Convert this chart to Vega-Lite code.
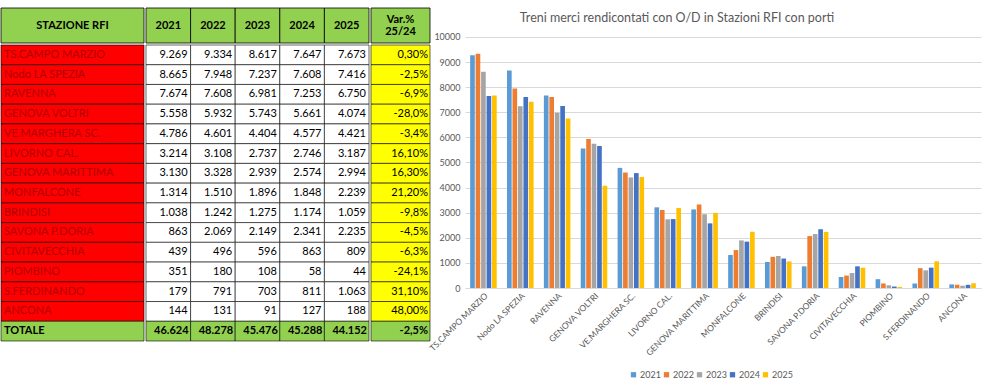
{
  "$schema": "https://vega.github.io/schema/vega-lite/v6.json",
  "padding": {"left": 0, "top": 7, "right": 5, "bottom": 2},
  "background": "white",
  "config": {
    "locale": {"number": {"decimal": ",", "thousands": ".", "grouping": [3], "currency": ["€", ""]}},
    "font": "Lato",
    "view": {"stroke": null}
  },
  "datasets": {
    "ports": [
      {"s": "TS.CAMPO MARZIO", "2021": 9269, "2022": 9334, "2023": 8617, "2024": 7647, "2025": 7673, "var": "0,30%"},
      {"s": "Nodo LA SPEZIA", "2021": 8665, "2022": 7948, "2023": 7237, "2024": 7608, "2025": 7416, "var": "-2,5%"},
      {"s": "RAVENNA", "2021": 7674, "2022": 7608, "2023": 6981, "2024": 7253, "2025": 6750, "var": "-6,9%"},
      {"s": "GENOVA VOLTRI", "2021": 5558, "2022": 5932, "2023": 5743, "2024": 5661, "2025": 4074, "var": "-28,0%"},
      {"s": "VE.MARGHERA SC.", "2021": 4786, "2022": 4601, "2023": 4404, "2024": 4577, "2025": 4421, "var": "-3,4%"},
      {"s": "LIVORNO CAL.", "2021": 3214, "2022": 3108, "2023": 2737, "2024": 2746, "2025": 3187, "var": "16,10%"},
      {"s": "GENOVA MARITTIMA", "2021": 3130, "2022": 3328, "2023": 2939, "2024": 2574, "2025": 2994, "var": "16,30%"},
      {"s": "MONFALCONE", "2021": 1314, "2022": 1510, "2023": 1896, "2024": 1848, "2025": 2239, "var": "21,20%"},
      {"s": "BRINDISI", "2021": 1038, "2022": 1242, "2023": 1275, "2024": 1174, "2025": 1059, "var": "-9,8%"},
      {"s": "SAVONA P.DORIA", "2021": 863, "2022": 2069, "2023": 2149, "2024": 2341, "2025": 2235, "var": "-4,5%"},
      {"s": "CIVITAVECCHIA", "2021": 439, "2022": 496, "2023": 596, "2024": 863, "2025": 809, "var": "-6,3%"},
      {"s": "PIOMBINO", "2021": 351, "2022": 180, "2023": 108, "2024": 58, "2025": 44, "var": "-24,1%"},
      {"s": "S.FERDINANDO", "2021": 179, "2022": 791, "2023": 703, "2024": 811, "2025": 1063, "var": "31,10%"},
      {"s": "ANCONA", "2021": 144, "2022": 131, "2023": 91, "2024": 127, "2025": 188, "var": "48,00%"},
      {"s": "TOTALE", "2021": 46624, "2022": 48278, "2023": 45476, "2024": 45288, "2025": 44152, "var": "-2,5%"}
    ],
    "header": [
      {"g": "s", "c": "STAZIONE RFI"},
      {"g": "y", "c": "2021"},
      {"g": "y", "c": "2022"},
      {"g": "y", "c": "2023"},
      {"g": "y", "c": "2024"},
      {"g": "y", "c": "2025"},
      {"g": "v", "c": "Var.%\n25/24"}
    ]
  },
  "spacing": -4,
  "hconcat": [
    {
      "spacing": 0,
      "vconcat": [
        {
          "spacing": 0,
          "hconcat": [
            {
              "width": 143, "height": 35,
              "data": {"name": "header"},
              "transform": [{"filter": "datum.g == 's'"}],
              "encoding": {"x": {"field": "c", "type": "nominal", "axis": null, "scale": {"paddingInner": 0, "paddingOuter": 0}}},
              "layer": [
                {"mark": {"type": "rect", "fill": "#92D050", "stroke": "#000", "strokeWidth": 0.8}},
                {"mark": {"type": "text", "fontWeight": "bold", "fontSize": 11, "color": "#000"}, "encoding": {"text": {"field": "c"}}}
              ]
            },
            {
              "width": 223, "height": 35,
              "data": {"name": "header"},
              "transform": [{"filter": "datum.g == 'y'"}],
              "encoding": {"x": {"field": "c", "type": "nominal", "sort": null, "axis": null, "scale": {"paddingInner": 0, "paddingOuter": 0}}},
              "layer": [
                {"mark": {"type": "rect", "fill": "#92D050", "stroke": "#000", "strokeWidth": 0.8}},
                {"mark": {"type": "text", "fontWeight": "bold", "fontSize": 11, "color": "#000"}, "encoding": {"text": {"field": "c"}}}
              ]
            },
            {
              "width": 59, "height": 35,
              "data": {"name": "header"},
              "transform": [{"filter": "datum.g == 'v'"}],
              "encoding": {"x": {"field": "c", "type": "nominal", "axis": null, "scale": {"paddingInner": 0, "paddingOuter": 0}}},
              "layer": [
                {"mark": {"type": "rect", "fill": "#92D050", "stroke": "#000", "strokeWidth": 0.8}},
                {"mark": {"type": "text", "fontWeight": "bold", "fontSize": 11, "color": "#000", "lineBreak": "\n", "lineHeight": 12, "dy": -6}, "encoding": {"text": {"field": "c"}}}
              ]
            }
          ]
        },
        {
          "spacing": 0,
          "hconcat": [
            {
              "width": 143, "height": 296,
              "data": {"name": "ports"},
              "encoding": {
                "y": {"field": "s", "type": "nominal", "sort": null, "axis": null, "scale": {"paddingInner": 0, "paddingOuter": 0}},
                "x": {"datum": "STAZIONE RFI", "type": "nominal", "axis": null, "scale": {"paddingInner": 0, "paddingOuter": 0}}
              },
              "layer": [
                {"mark": {"type": "rect", "stroke": "#000", "strokeWidth": 0.6},
                 "encoding": {"fill": {"condition": {"test": "datum.s == 'TOTALE'", "value": "#92D050"}, "value": "#FF0000"}}},
                {"transform": [{"filter": "datum.s != 'TOTALE'"}],
                 "mark": {"type": "text", "align": "left", "dx": 3, "fontSize": 11, "color": "#B00000"},
                 "encoding": {"x": {"datum": "STAZIONE RFI", "type": "nominal", "bandPosition": 0}, "text": {"field": "s"}}},
                {"transform": [{"filter": "datum.s == 'TOTALE'"}],
                 "mark": {"type": "text", "align": "left", "dx": 3, "fontSize": 11, "fontWeight": "bold", "color": "#000"},
                 "encoding": {"x": {"datum": "STAZIONE RFI", "type": "nominal", "bandPosition": 0}, "text": {"field": "s"}}}
              ]
            },
            {
              "width": 223, "height": 296,
              "data": {"name": "ports"},
              "transform": [{"fold": ["2021", "2022", "2023", "2024", "2025"], "as": ["yr", "v"]}],
              "encoding": {
                "y": {"field": "s", "type": "nominal", "sort": null, "axis": null, "scale": {"paddingInner": 0, "paddingOuter": 0}},
                "x": {"field": "yr", "type": "nominal", "sort": null, "axis": null, "scale": {"paddingInner": 0, "paddingOuter": 0}}
              },
              "layer": [
                {"mark": {"type": "rect", "stroke": "#000", "strokeWidth": 0.6},
                 "encoding": {"fill": {"condition": {"test": "datum.s == 'TOTALE'", "value": "#92D050"}, "value": "#FFFFFF"}}},
                {"transform": [{"filter": "datum.s != 'TOTALE'"}],
                 "mark": {"type": "text", "align": "right", "dx": -3, "fontSize": 11, "color": "#000"},
                 "encoding": {"x": {"field": "yr", "type": "nominal", "sort": null, "bandPosition": 1}, "text": {"field": "v", "format": ",d"}}},
                {"transform": [{"filter": "datum.s == 'TOTALE'"}],
                 "mark": {"type": "text", "align": "right", "dx": -2, "fontSize": 11, "fontWeight": "bold", "color": "#000"},
                 "encoding": {"x": {"field": "yr", "type": "nominal", "sort": null, "bandPosition": 1}, "text": {"field": "v", "format": ",d"}}}
              ]
            },
            {
              "width": 59, "height": 296,
              "data": {"name": "ports"},
              "encoding": {
                "y": {"field": "s", "type": "nominal", "sort": null, "axis": null, "scale": {"paddingInner": 0, "paddingOuter": 0}},
                "x": {"datum": "Var", "type": "nominal", "axis": null, "scale": {"paddingInner": 0, "paddingOuter": 0}}
              },
              "layer": [
                {"mark": {"type": "rect", "stroke": "#000", "strokeWidth": 0.6},
                 "encoding": {"fill": {"condition": {"test": "datum.s == 'TOTALE'", "value": "#92D050"}, "value": "#FFFF00"}}},
                {"transform": [{"filter": "datum.s != 'TOTALE'"}],
                 "mark": {"type": "text", "align": "right", "dx": -2, "fontSize": 11, "color": "#000"},
                 "encoding": {"x": {"datum": "Var", "type": "nominal", "bandPosition": 1}, "text": {"field": "var"}}},
                {"transform": [{"filter": "datum.s == 'TOTALE'"}],
                 "mark": {"type": "text", "align": "right", "dx": -2, "fontSize": 11, "fontWeight": "bold", "color": "#000"},
                 "encoding": {"x": {"datum": "Var", "type": "nominal", "bandPosition": 1}, "text": {"field": "var"}}}
              ]
            }
          ]
        }
      ]
    },
    {
      "width": 516, "height": 280,
      "data": {"name": "ports"},
      "transform": [
        {"filter": "datum.s != 'TOTALE'"},
        {"fold": ["2021", "2022", "2023", "2024", "2025"], "as": ["yr", "v"]}
      ],
      "title": {"text": "Treni merci rendicontati con O/D in Stazioni RFI con porti", "fontSize": 12.5, "fontWeight": "normal", "color": "#595959", "font": "Lato", "offset": -16, "dx": -46},
      "mark": {"type": "bar"},
      "encoding": {
        "x": {"field": "s", "type": "nominal", "sort": null, "title": null,
              "scale": {"paddingInner": 0.28, "paddingOuter": 0.14},
              "axis": {"labelAngle": -45, "labelFontSize": 8.5, "labelColor": "#595959", "ticks": false, "domainColor": "#d9d9d9", "labelPadding": 3}},
        "xOffset": {"field": "yr", "type": "nominal", "sort": null, "scale": {"paddingInner": 0.15}},
        "y": {"field": "v", "type": "quantitative", "title": null,
              "scale": {"domain": [0, 11155], "nice": false},
              "axis": {"values": [0, 1000, 2000, 3000, 4000, 5000, 6000, 7000, 8000, 9000, 10000], "format": "d", "labelFontSize": 9, "labelColor": "#595959", "domain": false, "ticks": false, "gridColor": "#d9d9d9", "labelPadding": 5}},
        "color": {"field": "yr", "type": "nominal",
                  "scale": {"domain": ["2021", "2022", "2023", "2024", "2025"], "range": ["#5B9BD5", "#ED7D31", "#A5A5A5", "#4472C4", "#FFC000"]},
                  "legend": {"title": null, "orient": "none", "legendX": 628, "legendY": 362, "direction": "horizontal", "symbolType": "square", "symbolSize": 28, "labelFontSize": 9, "labelColor": "#595959", "columnPadding": 1, "symbolOffset": 0, "labelOffset": 2}}
      }
    }
  ]
}
